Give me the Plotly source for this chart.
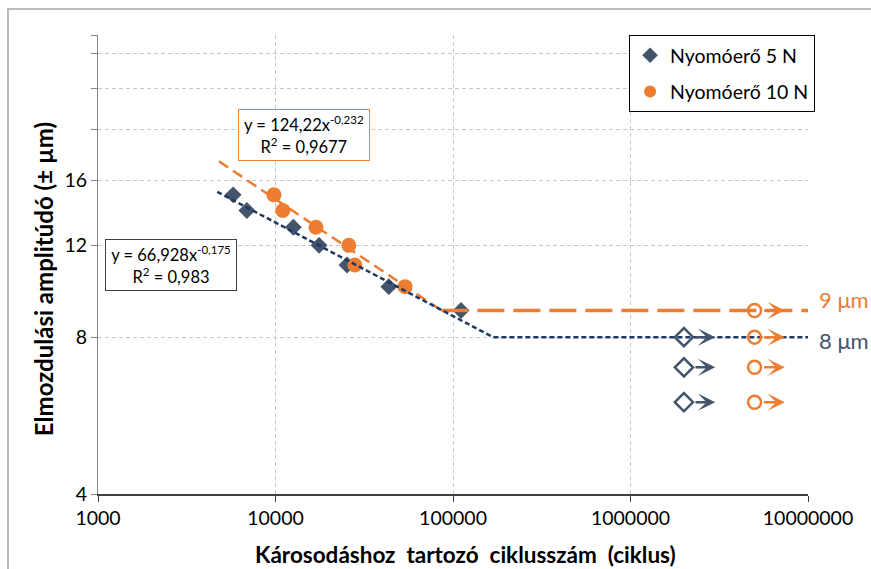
import math
import plotly.graph_objects as go

# ---- data ----
cycles_5N = [5770, 6900, 12600, 17600, 25300, 43500, 111000]
ampl_5N = [15, 14, 13, 12, 11, 10, 9]
cycles_10N = [9800, 11000, 16900, 25900, 28000, 53700]
ampl_10N = [15, 14, 13, 12, 11, 10]

runout_cycles_5N = [2.0e6, 2.0e6, 2.0e6]
runout_ampl_5N = [8, 7, 6]
runout_tip_5N = 3.0e6
runout_cycles_10N = [5.0e6, 5.0e6, 5.0e6, 5.0e6]
runout_ampl_10N = [9, 8, 7, 6]
runout_tip_10N = 7.4e6

trend_5N_x = [4700, 168000, 1.0e7]
trend_5N_y = [15.2, 8, 8]
trend_10N_slope_x = [4800, 86000]
trend_10N_slope_y = [17.4, 9]
limit_10N_x = [86000, 1.0e7]
limit_10N_y = [9, 9]

x_tickvals = [1000, 10000, 100000, 1000000, 10000000]
x_ticktext = ["1000", "10000", "100000", "1000000", "10000000"]
y_tickvals = [4, 8, 12, 16, 20, 24, 28, 30.3]
y_ticktext = ["4", "8", "12", "16", "", "", "", ""]

NAVY = "#44546A"
NAVY_D = "#203864"
ORANGE = "#ED7D31"
FONT = "Lato"

fig = go.Figure()

fig.add_trace(go.Scatter(x=cycles_5N, y=ampl_5N, mode="markers", name="Nyomóerő 5 N",
                         marker=dict(symbol="diamond", size=13, color=NAVY),
                         legendgroup="a"))
fig.add_trace(go.Scatter(x=cycles_10N, y=ampl_10N, mode="markers", name="Nyomóerő 10 N",
                         marker=dict(symbol="circle", size=15, color=ORANGE),
                         legendgroup="b"))

fig.add_trace(go.Scatter(x=trend_10N_slope_x, y=trend_10N_slope_y, mode="lines", showlegend=False,
                         line=dict(color=ORANGE, width=2.5, dash="11px,6px"), hoverinfo="skip"))
fig.add_trace(go.Scatter(x=limit_10N_x, y=limit_10N_y, mode="lines", showlegend=False,
                         line=dict(color=ORANGE, width=3.5, dash="27px,9px"), hoverinfo="skip"))
fig.add_trace(go.Scatter(x=trend_5N_x, y=trend_5N_y, mode="lines", showlegend=False,
                         line=dict(color=NAVY_D, width=2.5, dash="5px,3px"), hoverinfo="skip"))

fig.add_trace(go.Scatter(x=runout_cycles_5N, y=runout_ampl_5N, mode="markers", showlegend=False,
                         marker=dict(symbol="diamond-open", size=14, color=NAVY, line=dict(width=2.5, color=NAVY))))
fig.add_trace(go.Scatter(x=runout_cycles_10N, y=runout_ampl_10N, mode="markers", showlegend=False,
                         marker=dict(symbol="circle-open", size=13, color=ORANGE, line=dict(width=2.5, color=ORANGE))))

annotations = []
for n, a in zip(runout_cycles_5N, runout_ampl_5N):
    annotations.append(dict(x=math.log10(runout_tip_5N), y=math.log10(a), xref="x", yref="y",
                            ax=math.log10(n), ay=math.log10(a), axref="x", ayref="y",
                            showarrow=True, arrowhead=3, arrowsize=1.15, arrowwidth=2.5,
                            arrowcolor=NAVY, startstandoff=10, text=""))
for n, a in zip(runout_cycles_10N, runout_ampl_10N):
    annotations.append(dict(x=math.log10(runout_tip_10N), y=math.log10(a), xref="x", yref="y",
                            ax=math.log10(n), ay=math.log10(a), axref="x", ayref="y",
                            showarrow=True, arrowhead=3, arrowsize=1.15, arrowwidth=2.5,
                            arrowcolor=ORANGE, startstandoff=8, text=""))

# equation boxes
annotations.append(dict(x=0.290, y=0.782, xref="paper", yref="paper", showarrow=False,
                        xanchor="center", yanchor="middle",
                        text="y = 124,22x<sup>-0,232</sup><br>R<sup>2</sup> = 0,9677",
                        font=dict(family=FONT, size=16.5, color="#000000"),
                        bordercolor=ORANGE, borderwidth=1, bgcolor="white",
                        width=128, height=48, borderpad=1))
annotations.append(dict(x=0.103, y=0.499, xref="paper", yref="paper", showarrow=False,
                        xanchor="center", yanchor="middle",
                        text="y = 66,928x<sup>-0,175</sup><br>R<sup>2</sup> = 0,983",
                        font=dict(family=FONT, size=16.5, color="#000000"),
                        bordercolor="#404040", borderwidth=1, bgcolor="white",
                        width=128, height=48, borderpad=1))

# limit labels
annotations.append(dict(x=1.0127, y=0.424, xref="paper", yref="paper", showarrow=False,
                        xanchor="left", yanchor="middle", text="9 μm",
                        font=dict(family=FONT, size=22, color=ORANGE)))
annotations.append(dict(x=1.0127, y=0.334, xref="paper", yref="paper", showarrow=False,
                        xanchor="left", yanchor="middle", text="8 μm",
                        font=dict(family=FONT, size=22, color=NAVY)))

# axis titles
annotations.append(dict(x=-0.0775, y=0.468, xref="paper", yref="paper", showarrow=False,
                        xanchor="center", yanchor="middle",
                        textangle=-90, text="<b>Elmozdulási amplitúdó (± µm)</b>",
                        font=dict(family=FONT, size=24, color="#000000")))
annotations.append(dict(x=0.518, y=-0.131, xref="paper", yref="paper", showarrow=False,
                        xanchor="center", yanchor="middle",
                        text="<b>Károsodáshoz  tartozó  ciklusszám  (ciklus)</b>",
                        font=dict(family=FONT, size=22.5, color="#000000")))

fig.update_layout(
    width=871, height=569,
    margin=dict(l=98, r=63, t=35, b=75),
    paper_bgcolor="white", plot_bgcolor="white",
    font=dict(family=FONT, size=19, color="#000000"),
    annotations=annotations,
    legend=dict(x=0.748, y=1.0, xanchor="left", yanchor="top",
                bordercolor="#000000", borderwidth=1, bgcolor="white",
                font=dict(family=FONT, size=19.5), tracegroupgap=8,
                traceorder="grouped", itemsizing="constant", itemwidth=30),
    shapes=[dict(type="rect", xref="paper", yref="paper",
                 x0=-0.1268, x1=1.2, y0=-0.3, y1=1.0566,
                 line=dict(color="#A6A6A6", width=1.5), layer="below")],
)

fig.update_xaxes(type="log", range=[3, 7], tickvals=x_tickvals, ticktext=x_ticktext,
                 showgrid=True, gridcolor="#C8C8C8", griddash="4px,3px", gridwidth=1,
                 showline=True, linecolor="#404040", linewidth=1.5,
                 ticks="outside", ticklen=6, tickcolor="#404040",
                 tickfont=dict(family=FONT, size=19.5), zeroline=False)
fig.update_yaxes(type="log", range=[math.log10(4), math.log10(30.4)],
                 tickvals=y_tickvals, ticktext=y_ticktext,
                 showgrid=True, gridcolor="#C8C8C8", griddash="4px,3px", gridwidth=1,
                 showline=True, linecolor="#868686", linewidth=1,
                 ticks="outside", ticklen=6, tickcolor="#868686",
                 tickfont=dict(family=FONT, size=19.5), zeroline=False)

fig.write_html("out.html")
